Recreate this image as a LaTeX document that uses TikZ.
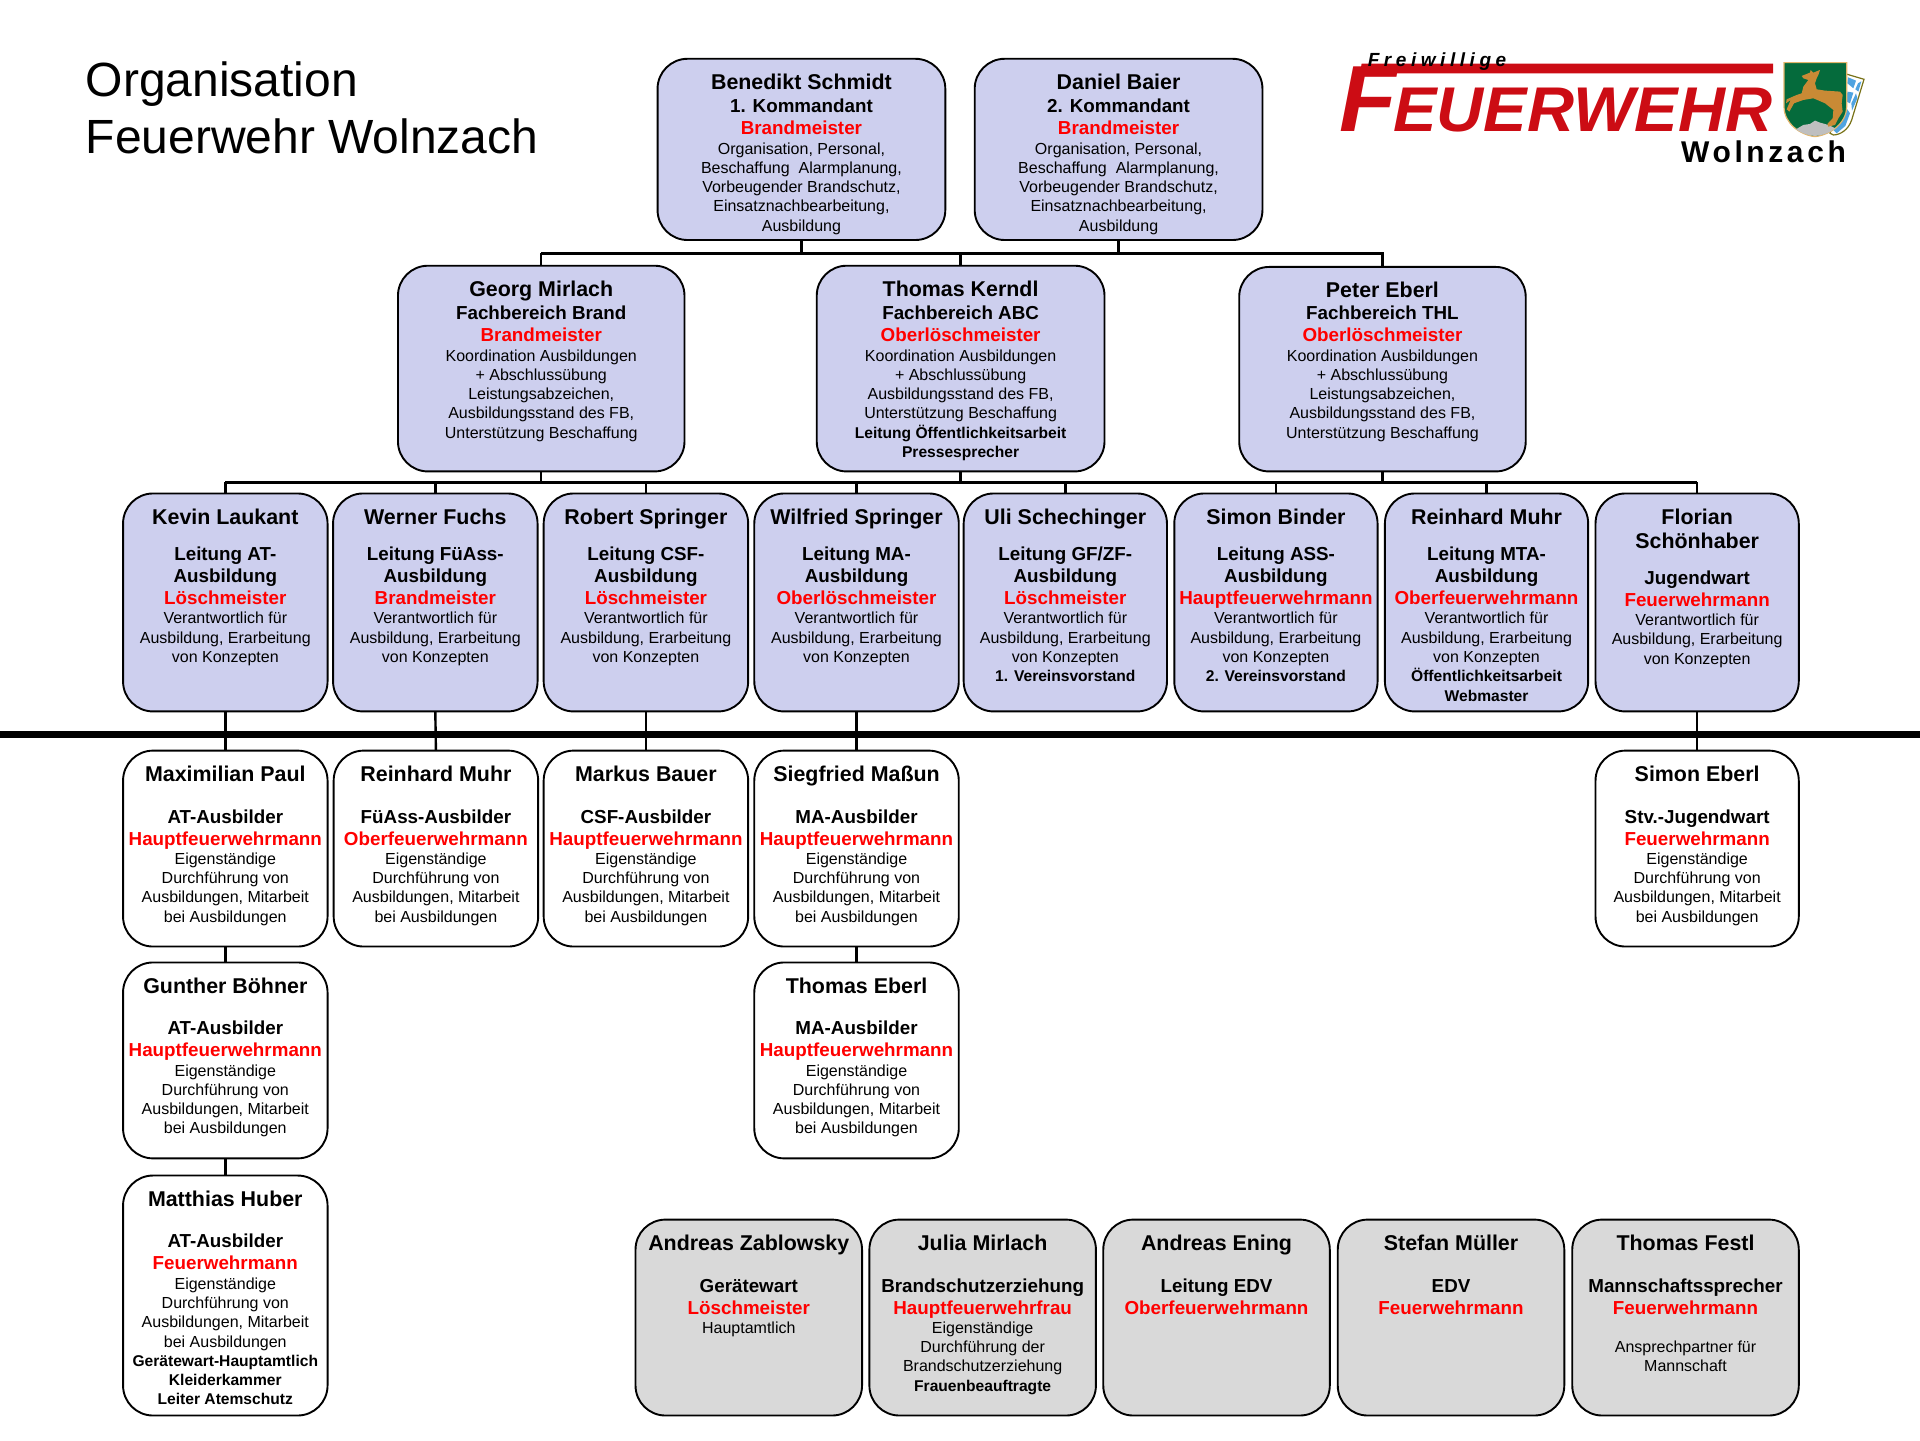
\documentclass[tikz,border=0pt]{standalone}
\usepackage{fontspec}
\setmainfont{Liberation Sans}
\usepackage{xcolor}
\definecolor{chiefblue}{HTML}{CDCFEE}
\definecolor{staffgrey}{HTML}{D9D9D9}
\definecolor{logored}{HTML}{CC0C14}
\definecolor{shieldgreen}{HTML}{056B3C}
\definecolor{deerbrown}{HTML}{C98A35}
\definecolor{flagblue}{HTML}{4FA3E0}
\definecolor{shieldedge}{HTML}{E3B56B}
\newdimen\unitpx
\unitpx=0.61224pt
\newcommand{\pbox}[3]{\parbox[c][#2\unitpx][t]{#1\unitpx}{\centering\vspace*{7.4pt}#3}}
\newcommand{\pname}[1]{{\fontsize{10.7pt}{12.25pt}\selectfont\bfseries\rule{0pt}{8pt}#1\par}}
\newcommand{\prole}[2][0.6pt]{\vspace{#1}{\fontsize{9.4pt}{11pt}\selectfont\bfseries #2\par}}
\newcommand{\prank}[1]{{\fontsize{9.4pt}{11pt}\selectfont\bfseries\color{red}#1\par}}
\newcommand{\ptext}[1]{{\fontsize{8pt}{9.64pt}\selectfont #1\par}}
\newcommand{\pbold}[1]{{\fontsize{7.8pt}{9.64pt}\selectfont\bfseries #1\par}}
\usetikzlibrary{positioning}
\tikzset{
    personbox/.style = {rectangle, draw=black, line width=0.95pt, inner sep=0pt, outer sep=0pt, anchor=north, rounded corners=15pt},
    chiefbox/.style = {personbox, fill=chiefblue},
    plainbox/.style = {personbox, fill=white},
    staffbox/.style = {personbox, fill=staffgrey},
    wire/.style = {draw=black, line width=1.2pt},
    divider/.style = {draw=black, line width=3.7pt},
    logotext/.style = {inner sep=0pt, outer sep=0pt, anchor=base}
}
\begin{document}
\begin{tikzpicture}[x=0.61224pt, y=-0.61224pt]
    \useasboundingbox (0,0) rectangle (1568,1176);

    \node (titlea) [logotext, anchor=base west] at (70,79) {\fontsize{24pt}{28pt}\selectfont Organisation};
    \node (titleb) [logotext, anchor=base west] at (70,125) {\fontsize{24pt}{28pt}\selectfont Feuerwehr Wolnzach};

    % command
    \node (benedikt) [chiefbox] at (654.5,48) {\pbox{235}{148}{\pname{Benedikt Schmidt}\prole{1. Kommandant}\prank{Brandmeister}\ptext{Organisation, Personal,\\Beschaffung\ \ Alarmplanung,\\Vorbeugender Brandschutz,\\Einsatznachbearbeitung,\\Ausbildung}}};
    \node (daniel) [chiefbox] at (913.5,48) {\pbox{235}{148}{\pname{Daniel Baier}\prole{2. Kommandant}\prank{Brandmeister}\ptext{Organisation, Personal,\\Beschaffung\ \ Alarmplanung,\\Vorbeugender Brandschutz,\\Einsatznachbearbeitung,\\Ausbildung}}};

    % fachbereiche
    \node (georg) [chiefbox] at (442,217) {\pbox{234}{168}{\pname{Georg Mirlach}\prole{Fachbereich Brand}\prank{Brandmeister}\ptext{Koordination Ausbildungen\\+ Abschlussübung\\Leistungsabzeichen,\\Ausbildungsstand des FB,\\Unterstützung Beschaffung}}};
    \node (thomas) [chiefbox] at (784.5,217) {\pbox{235}{168}{\pname{Thomas Kerndl}\prole{Fachbereich ABC}\prank{Oberlöschmeister}\ptext{Koordination Ausbildungen\\+ Abschlussübung\\Ausbildungsstand des FB,\\Unterstützung Beschaffung}\pbold{Leitung Öffentlichkeitsarbeit\\Pressesprecher}}};
    \node (peter) [chiefbox] at (1129,218) {\pbox{234}{167}{\pname{Peter Eberl}\prole[0pt]{Fachbereich THL}\prank{Oberlöschmeister}\ptext{Koordination Ausbildungen\\+ Abschlussübung\\Leistungsabzeichen,\\Ausbildungsstand des FB,\\Unterstützung Beschaffung}}};

    % leitung
    \node (kevin) [chiefbox] at (184,403) {\pbox{167}{178}{\pname{Kevin Laukant}\prole[7.2pt]{Leitung AT-\\Ausbildung}\prank{Löschmeister}\ptext{Verantwortlich für\\Ausbildung, Erarbeitung\\von Konzepten}}};
    \node (werner) [chiefbox] at (355.5,403) {\pbox{167}{178}{\pname{Werner Fuchs}\prole[7.2pt]{Leitung FüAss-\\Ausbildung}\prank{Brandmeister}\ptext{Verantwortlich für\\Ausbildung, Erarbeitung\\von Konzepten}}};
    \node (robert) [chiefbox] at (527.5,403) {\pbox{167}{178}{\pname{Robert Springer}\prole[7.2pt]{Leitung CSF-\\Ausbildung}\prank{Löschmeister}\ptext{Verantwortlich für\\Ausbildung, Erarbeitung\\von Konzepten}}};
    \node (wilfried) [chiefbox] at (699.5,403) {\pbox{167}{178}{\pname{Wilfried Springer}\prole[7.2pt]{Leitung MA-\\Ausbildung}\prank{Oberlöschmeister}\ptext{Verantwortlich für\\Ausbildung, Erarbeitung\\von Konzepten}}};
    \node (uli) [chiefbox] at (870,403) {\pbox{166}{178}{\pname{Uli Schechinger}\prole[7.2pt]{Leitung GF/ZF-\\Ausbildung}\prank{Löschmeister}\ptext{Verantwortlich für\\Ausbildung, Erarbeitung\\von Konzepten}\pbold{1. Vereinsvorstand}}};
    \node (simonb) [chiefbox] at (1042,403) {\pbox{166}{178}{\pname{Simon Binder}\prole[7.2pt]{Leitung ASS-\\Ausbildung}\prank{Hauptfeuerwehrmann}\ptext{Verantwortlich für\\Ausbildung, Erarbeitung\\von Konzepten}\pbold{2. Vereinsvorstand}}};
    \node (reinhard) [chiefbox] at (1214,403) {\pbox{166}{178}{\pname{Reinhard Muhr}\prole[7.2pt]{Leitung MTA-\\Ausbildung}\prank{Oberfeuerwehrmann}\ptext{Verantwortlich für\\Ausbildung, Erarbeitung\\von Konzepten}\pbold{Öffentlichkeitsarbeit\\Webmaster}}};
    \node (florian) [chiefbox] at (1386,403) {\pbox{166}{178}{\pname{Florian\\Schönhaber}\prole[6.8pt]{Jugendwart}\prank{Feuerwehrmann}\ptext{Verantwortlich für\\Ausbildung, Erarbeitung\\von Konzepten}}};

    % ausbilder
    \node (maximilian) [plainbox] at (184,613) {\pbox{167}{160}{\pname{Maximilian Paul}\prole[9.8pt]{AT-Ausbilder}\prank{Hauptfeuerwehrmann}\ptext{Eigenständige\\Durchführung von\\Ausbildungen, Mitarbeit\\bei Ausbildungen}}};
    \node (reinhardm) [plainbox] at (356,613) {\pbox{167}{160}{\pname{Reinhard Muhr}\prole[9.8pt]{FüAss-Ausbilder}\prank{Oberfeuerwehrmann}\ptext{Eigenständige\\Durchführung von\\Ausbildungen, Mitarbeit\\bei Ausbildungen}}};
    \node (markus) [plainbox] at (527.5,613) {\pbox{167}{160}{\pname{Markus Bauer}\prole[9.8pt]{CSF-Ausbilder}\prank{Hauptfeuerwehrmann}\ptext{Eigenständige\\Durchführung von\\Ausbildungen, Mitarbeit\\bei Ausbildungen}}};
    \node (siegfried) [plainbox] at (699.5,613) {\pbox{167}{160}{\pname{Siegfried Maßun}\prole[9.8pt]{MA-Ausbilder}\prank{Hauptfeuerwehrmann}\ptext{Eigenständige\\Durchführung von\\Ausbildungen, Mitarbeit\\bei Ausbildungen}}};
    \node (simone) [plainbox] at (1386,613) {\pbox{166}{160}{\pname{Simon Eberl}\prole[9.8pt]{Stv.-Jugendwart}\prank{Feuerwehrmann}\ptext{Eigenständige\\Durchführung von\\Ausbildungen, Mitarbeit\\bei Ausbildungen}}};
    \node (gunther) [plainbox] at (184,786) {\pbox{167}{160}{\pname{Gunther Böhner}\prole[9.8pt]{AT-Ausbilder}\prank{Hauptfeuerwehrmann}\ptext{Eigenständige\\Durchführung von\\Ausbildungen, Mitarbeit\\bei Ausbildungen}}};
    \node (thomase) [plainbox] at (699.5,786) {\pbox{167}{160}{\pname{Thomas Eberl}\prole[9.8pt]{MA-Ausbilder}\prank{Hauptfeuerwehrmann}\ptext{Eigenständige\\Durchführung von\\Ausbildungen, Mitarbeit\\bei Ausbildungen}}};
    \node (matthias) [plainbox] at (184,960) {\pbox{167}{196}{\pname{Matthias Huber}\prole[9.8pt]{AT-Ausbilder}\prank{Feuerwehrmann}\ptext{Eigenständige\\Durchführung von\\Ausbildungen, Mitarbeit\\bei Ausbildungen}\pbold{Gerätewart-Hauptamtlich\\Kleiderkammer\\Leiter Atemschutz}}};

    % stab
    \node (andreasz) [staffbox] at (611.5,996) {\pbox{185}{160}{\pname{Andreas Zablowsky}\prole[9.8pt]{Gerätewart}\prank{Löschmeister}\ptext{Hauptamtlich}}};
    \node (julia) [staffbox] at (802.5,996) {\pbox{185}{160}{\pname{Julia Mirlach}\prole[9.8pt]{Brandschutzerziehung}\prank{Hauptfeuerwehrfrau}\ptext{Eigenständige\\Durchführung der\\Brandschutzerziehung}\pbold{Frauenbeauftragte}}};
    \node (andrease) [staffbox] at (993.5,996) {\pbox{185}{160}{\pname{Andreas Ening}\prole[9.8pt]{Leitung EDV}\prank{Oberfeuerwehrmann}}};
    \node (stefan) [staffbox] at (1185,996) {\pbox{185}{160}{\pname{Stefan Müller}\prole[9.8pt]{EDV}\prank{Feuerwehrmann}}};
    \node (thomasf) [staffbox] at (1376.5,996) {\pbox{185}{160}{\pname{Thomas Festl}\prole[9.8pt]{Mannschaftssprecher}\prank{Feuerwehrmann}\ptext{~\\Ansprechpartner für\\Mannschaft}}};

    % connectors
    \coordinate (busa) at (442,207);
    \coordinate (busb) at (1130,207);
    \coordinate (busc) at (184,394);
    \coordinate (busd) at (1386,394);
    \coordinate (lefte) at (0,600);
    \coordinate (righte) at (1568,600);
    \draw[wire] (busa) -- (busb);
    \draw[wire] (busc) -- (busd);
    \foreach \n in {benedikt,daniel}
        \draw[wire] (\n.south) -- (\n.south |- busa);
    \foreach \n in {georg,thomas,peter}
        \draw[wire] (\n.north) -- (\n.north |- busa);
    \foreach \n in {georg,thomas,peter}
        \draw[wire] (\n.south) -- (\n.south |- busc);
    \foreach \n in {kevin,werner,robert,wilfried,uli,simonb,reinhard,florian}
        \draw[wire] (\n.north) -- (\n.north |- busc);
    \foreach \a/\b in {kevin/maximilian,werner/reinhardm,robert/markus,wilfried/siegfried,florian/simone,maximilian/gunther,gunther/matthias,siegfried/thomase}
        \draw[wire] (\a.south) -- (\b.north);
    \draw[divider] (lefte) -- (righte);

    % logo
    \fill[logored] (1112,52) -- (1448,52) -- (1448,60) -- (1110.5,60) -- cycle;
    \node (logof) [logotext, text=logored, anchor=base west] at (1094,107) {\fontsize{47pt}{47pt}\selectfont\bfseries\itshape F};
    \node (logoword) [logotext, text=logored, anchor=base west] at (1138,107) {\scalebox{1.03}[1]{\fontsize{31.6pt}{32pt}\selectfont\bfseries\itshape EUERWEHR}};
    \node (logotop) [logotext, anchor=base west] at (1117,54) {\fontsize{9.5pt}{10pt}\addfontfeatures{LetterSpace=24}\selectfont\bfseries\itshape Freiwillige};
    \node (logotown) [logotext, anchor=base west] at (1373,133) {\fontsize{15pt}{16pt}\addfontfeatures{LetterSpace=12}\selectfont\bfseries Wolnzach};
    \begin{scope}[shift={(1445.5,40.8)}, x=0.16665pt, y=-0.16665pt]
        % flag behind the shield
        \fill[white, draw=olive!80!black, line width=0.6pt] (228,72) -- (282,88) -- (245,210)
            .. controls (235,240) and (210,255) .. (190,255) -- (180,250) -- cycle;
        \fill[flagblue] (234,82) -- (258,92) -- (250,115) -- (232,100) -- cycle
            (264,100) -- (274,94) -- (265,125) -- (256,118) -- cycle
            (232,125) -- (250,128) -- (240,160) -- (230,155) -- cycle
            (258,130) -- (262,145) -- (246,182) -- (244,160) -- cycle
            (232,178) -- (240,190) -- (226,228) -- (200,250) -- (190,240) -- cycle;
        % shield
        \fill[shieldgreen, draw=shieldedge, line width=0.6pt] (42,38) -- (230,38) -- (230,170)
            .. controls (230,220) and (180,255) .. (135,260)
            .. controls (90,255) and (42,220) .. (42,170) -- cycle;
        \fill[gray!50] (78,238) -- (100,225) -- (120,222) -- (135,212) -- (150,218) -- (175,225) -- (196,235)
            .. controls (175,250) and (155,257) .. (135,258)
            .. controls (115,257) and (95,250) .. (78,238) -- cycle;
        \fill[deerbrown] (95,78) -- (120,68) -- (122,60) -- (130,68) -- (150,60) -- (145,75) -- (140,85) -- (135,100) -- (140,118) -- (165,122) -- (210,125) -- (218,135) -- (215,160) -- (218,185) -- (205,205) -- (195,225) -- (175,230) -- (172,222) -- (188,205) -- (190,180) -- (165,160) -- (130,145) -- (100,150) -- (72,160) -- (58,185) -- (50,178) -- (62,150) -- (48,160) -- (50,148) -- (80,135) -- (95,130) -- (100,110) -- (115,90) -- (100,85) -- cycle;
    \end{scope}
\end{tikzpicture}
\end{document}
